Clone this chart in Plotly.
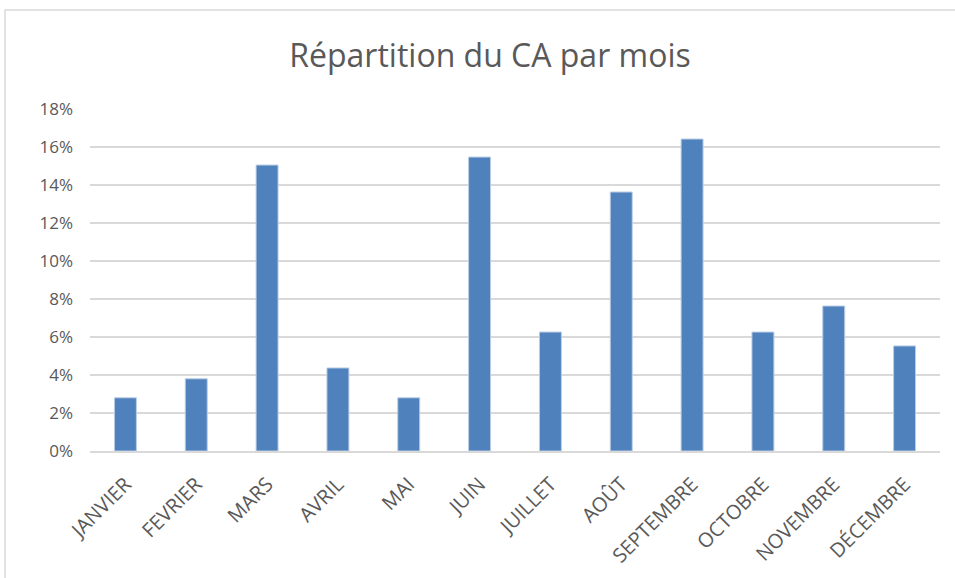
import plotly.graph_objects as go

mois = ["JANVIER", "FEVRIER", "MARS", "AVRIL", "MAI", "JUIN", "JUILLET",
        "AOÛT", "SEPTEMBRE", "OCTOBRE", "NOVEMBRE", "DÉCEMBRE"]
part_ca = [0.028, 0.038, 0.1505, 0.0437, 0.028, 0.1547, 0.0626,
           0.1363, 0.1642, 0.0626, 0.0763, 0.0553]
y_ticks = [0, 0.02, 0.04, 0.06, 0.08, 0.10, 0.12, 0.14, 0.16, 0.18]
y_labels = ["0%", "2%", "4%", "6%", "8%", "10%", "12%", "14%", "16%", "18%"]

W, H = 955, 578
ml, mr, mt, mb = 90, 15, 109, 127
pw, ph = W - ml - mr, H - mt - mb

fig = go.Figure(go.Bar(
    x=mois, y=part_ca,
    marker=dict(color="#4F81BD", line=dict(color="#B9CDE5", width=1)),
    width=0.31,
))

def px_to_paper_x(px):
    return (px - ml) / pw

def px_to_paper_y(py):
    return (H - mb - py) / ph

fig.add_shape(type="rect", xref="paper", yref="paper",
              x0=px_to_paper_x(5), x1=px_to_paper_x(975),
              y0=px_to_paper_y(600), y1=px_to_paper_y(10),
              line=dict(color="#D9D9D9", width=1.5), fillcolor="rgba(0,0,0,0)",
              layer="below")

fig.update_layout(
    width=W, height=H,
    margin=dict(l=ml, r=mr, t=mt, b=mb),
    paper_bgcolor="white", plot_bgcolor="white",
    font=dict(family="Open Sans, Liberation Sans, sans-serif", color="#595959"),
    title=dict(text="Répartition du CA par mois", x=490 / W, xref="container",
               xanchor="center", y=1 - 56 / H, yref="container", yanchor="middle",
               font=dict(size=32, color="#595959")),
    showlegend=False,
    xaxis=dict(tickangle=-45, tickfont=dict(size=20, color="#595959"),
               showline=True, linecolor="#D9D9D9", linewidth=1.5,
               showgrid=False, ticks="", ticklabelstandoff=12, automargin=False),
    yaxis=dict(range=[0, 0.18], tickvals=y_ticks, ticktext=y_labels,
               tickfont=dict(size=17, color="#595959"),
               showgrid=True, gridcolor="#D9D9D9", gridwidth=1.5,
               zeroline=False, showline=False, ticks="",
               ticklabelstandoff=16, automargin=False),
)

fig.write_html("out.html", post_script="document.body.style.margin='0';",
               config={"displayModeBar": False})
